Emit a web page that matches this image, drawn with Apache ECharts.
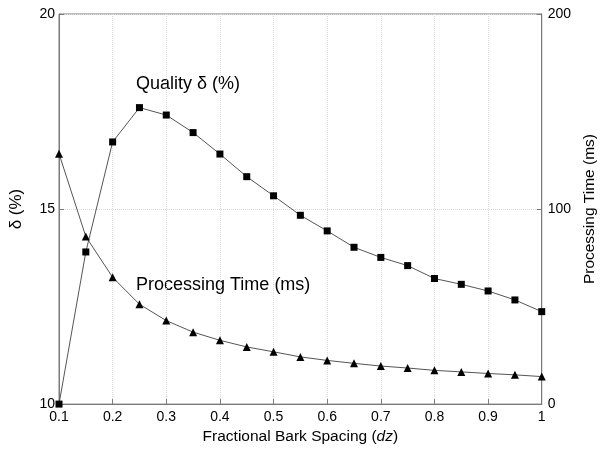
<!DOCTYPE html>
<html>
<head>
<meta charset="utf-8">
<script src="https://cdn.jsdelivr.net/npm/echarts@6/dist/echarts.min.js"></script>
<style>
  html, body { margin: 0; padding: 0; background: #fff; }
  #chart { width: 606px; height: 450px; }
</style>
</head>
<body>
<div id="chart"></div>
<script>
// x positions (fractional bark spacing dz)
var dz = [0.1, 0.15, 0.2, 0.25, 0.3, 0.35, 0.4, 0.45, 0.5, 0.55,
          0.6, 0.65, 0.7, 0.75, 0.8, 0.85, 0.9, 0.95, 1.0];
// quality delta (%), left axis
var quality = [10.0, 13.9, 16.72, 17.6, 17.41, 16.96, 16.41, 15.83, 15.34, 14.84,
               14.44, 14.02, 13.76, 13.55, 13.22, 13.07, 12.9, 12.67, 12.37];
// processing time (ms), right axis
var procTime = [128.4, 85.9, 65.0, 51.2, 42.8, 36.9, 32.7, 29.3, 26.8, 24.2,
                22.4, 20.9, 19.5, 18.5, 17.3, 16.5, 15.7, 15.0, 14.1];

var font = '"Liberation Sans", Arial, sans-serif';
var axisGray = '#7a7a7a';

function pairs(xs, ys) {
  var out = [];
  for (var i = 0; i < xs.length; i++) out.push([xs[i], ys[i]]);
  return out;
}

var chart = echarts.init(document.getElementById('chart'));
var option = {
  backgroundColor: '#fff',
  animation: false,
  textStyle: { fontFamily: font },
  grid: {
    left: 52, right: 52, top: 14, bottom: 40,
    show: true, borderColor: axisGray, borderWidth: 1
  },
  xAxis: {
    type: 'value', min: 0.1, max: 1, interval: 0.1,
    name: 'Fractional Bark Spacing ({i|dz})',
    nameLocation: 'middle', nameGap: 23,
    nameTextStyle: {
      fontFamily: font, fontSize: 15.5, color: '#000',
      rich: { i: { fontStyle: 'italic', fontFamily: font, fontSize: 15.5, color: '#000' } }
    },
    axisLine: { lineStyle: { color: axisGray } },
    axisTick: { inside: true, length: 5, lineStyle: { color: axisGray } },
    axisLabel: {
      fontSize: 14, color: '#000', margin: 6,
      formatter: function (v) { return String(+v.toFixed(1)); }
    },
    splitLine: { show: true, lineStyle: { color: '#dadada', type: 'dotted' } }
  },
  yAxis: [{
    type: 'value', min: 10, max: 20, interval: 5, position: 'left',
    name: 'δ (%)', nameLocation: 'middle', nameGap: 34, nameRotate: 90,
    nameTextStyle: { fontSize: 17, color: '#000' },
    axisLine: { show: true, lineStyle: { color: axisGray } },
    axisTick: { show: true, inside: true, length: 5, lineStyle: { color: axisGray } },
    axisLabel: { fontSize: 14, color: '#000', margin: 4 },
    splitLine: { show: true, lineStyle: { color: '#dadada', type: 'dotted' } }
  }, {
    type: 'value', min: 0, max: 200, interval: 100, position: 'right',
    name: 'Processing Time (ms)', nameLocation: 'middle', nameGap: 40, nameRotate: 90,
    nameTextStyle: { fontSize: 15.5, color: '#000' },
    axisLine: { show: true, lineStyle: { color: axisGray } },
    axisTick: { show: true, inside: true, length: 5, lineStyle: { color: axisGray } },
    axisLabel: { fontSize: 14, color: '#000', margin: 6 },
    splitLine: { show: false }
  }],
  series: [{
    name: 'Quality δ (%)',
    type: 'line', yAxisIndex: 0,
    data: pairs(dz, quality),
    symbol: 'rect', symbolSize: 7,
    itemStyle: { color: '#000' },
    lineStyle: { color: '#555', width: 1 }
  }, {
    name: 'Processing Time (ms)',
    type: 'line', yAxisIndex: 1,
    data: pairs(dz, procTime),
    symbol: 'triangle', symbolSize: 8,
    itemStyle: { color: '#000' },
    lineStyle: { color: '#555', width: 1 }
  }],
  graphic: [{
    type: 'text', left: 136, top: 75,
    style: { text: 'Quality δ (%)', fontFamily: font, fontSize: 18, fill: '#000' }
  }, {
    type: 'text', left: 136, top: 276,
    style: { text: 'Processing Time (ms)', fontFamily: font, fontSize: 18, fill: '#000' }
  }]
};
chart.setOption(option);
</script>
</body>
</html>
